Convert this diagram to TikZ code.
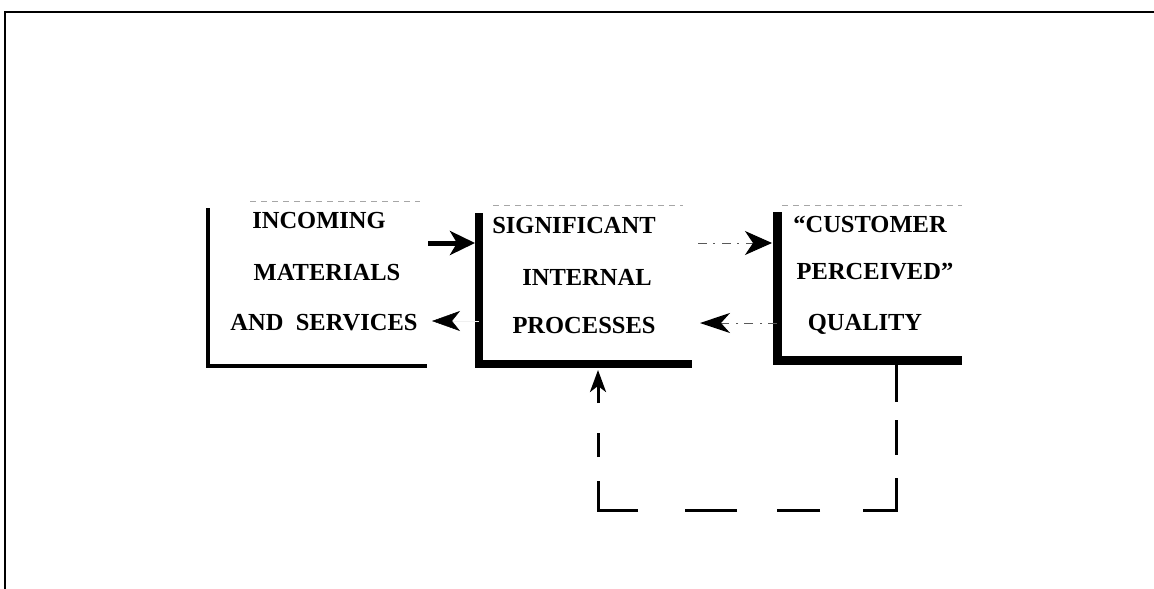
\documentclass[tikz,border=0pt]{standalone}
\usepackage{fontspec}
\setmainfont{Liberation Serif}
\usetikzlibrary{arrows.meta,calc}
\begin{document}
\begin{tikzpicture}[x=1pt,y=-1pt,
  boxarea/.style={inner sep=0pt, outer sep=0pt, minimum width=#1},
  lbl/.style={anchor=base, inner sep=0pt, font=\fontsize{24.5}{28}\selectfont\bfseries},
  faint/.style={draw=black!35, line width=0.8pt, dash pattern=on 6pt off 5pt},
  dotline/.style={draw=black!65, line width=1pt, dash pattern=on 9pt off 6pt on 2pt off 7pt},
  fback/.style={line width=3pt, dash pattern=on 42pt off 18pt on 35pt off 23pt on 65pt off 43pt on 43pt off 40pt on 52pt off 47pt on 69pt off 24pt on 24pt off 30pt on 40pt off 10pt},
]
\useasboundingbox (0,0) rectangle (1154,589);
% outer frame
\draw[line width=2.5pt] (5,589) -- (5,12) -- (1154,12);

% box areas
\node[boxarea=219pt, minimum height=165pt] (b1) at (317.5,283.5) {};
\node[boxarea=213pt, minimum height=159pt] (b2) at (585.5,284.5) {};
\node[boxarea=185pt, minimum height=155pt] (b3) at (869.5,282.5) {};

% L-shaped outlines
\draw[line width=4pt] ([yshift=-7pt]b1.north west) -- (b1.south west) -- (b1.south east);
\draw[line width=8pt] ([yshift=-8pt]b2.north west) -- (b2.south west) -- (b2.south east);
\draw[line width=9pt] ([yshift=-7pt]b3.north west) -- (b3.south west) -- (b3.south east);

% faint top lines
\draw[faint] ([xshift=42pt]b1.north west) -- ([xshift=-7pt]b1.north east);
\draw[faint] ([xshift=14pt]b2.north west) -- ([xshift=-9pt]b2.north east);
\draw[faint] ([xshift=5pt]b3.north west) -- (b3.north east);

% texts
\node[lbl] (t11) at (319,228) {INCOMING};
\node[lbl] (t12) at (327,280) {MATERIALS};
\node[lbl] (t13) at (324,330) {AND\ \ SERVICES};
\node[lbl] (t21) at (574,233) {SIGNIFICANT};
\node[lbl] (t22) at (587,285) {INTERNAL};
\node[lbl] (t23) at (584,333) {PROCESSES};
\node[lbl] (t31) at (870,232) {“CUSTOMER};
\node[lbl] (t32) at (875,279) {PERCEIVED”};
\node[lbl] (t33) at (865,330) {QUALITY};

% connectors between boxes
\draw[line width=5pt, -{Stealth[length=25pt,width=24pt,inset=7pt]}, shorten <=1pt, shorten >=4pt]
  (b1.east |- 0,243) -- (b2.west |- 0,243);
\draw[draw=black!6, line width=0.5pt, -{Stealth[length=28pt,width=20pt,inset=8pt,black]}, shorten >=5pt]
  (b2.west |- 0,321) -- (b1.east |- 0,321);
\draw[dotline, -{Stealth[length=27pt,width=24pt,inset=8pt,black]}, shorten <=6pt, shorten >=5pt]
  (b2.east |- 0,243) -- (b3.west |- 0,243);
\draw[dotline, -{Stealth[length=30pt,width=20pt,inset=9pt,black]}, shorten >=8pt]
  (b3.west |- 0,323) -- (b2.east |- 0,323);

% feedback loop
\coordinate (fb1) at (896,510);
\coordinate (fb2) at (598,510);
\draw[fback, -{Stealth[length=22pt,width=16pt,inset=6pt]}, shorten >=6pt]
  (b3.south -| fb1) -- (fb1) -- (fb2) -- (b2.south -| fb2);
\end{tikzpicture}
\end{document}
